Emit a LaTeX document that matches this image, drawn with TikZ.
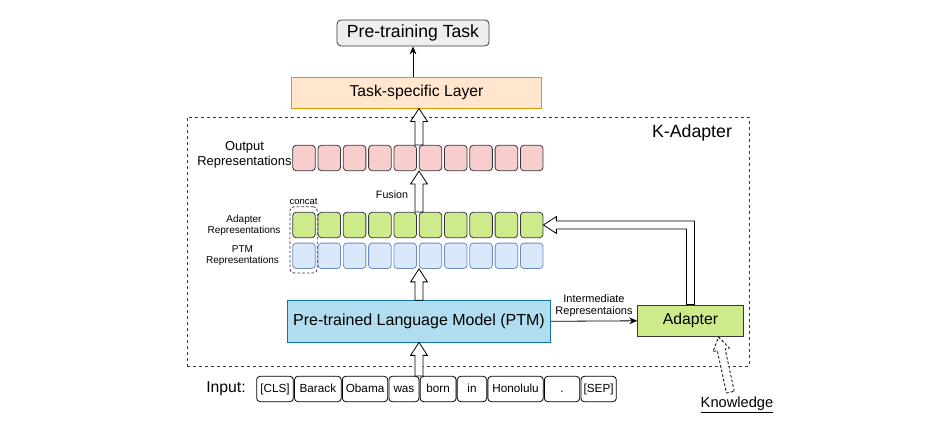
\documentclass[tikz,border=0pt]{standalone}
\usepackage{fontspec}
\setmainfont{Liberation Sans}
\usetikzlibrary{positioning,calc,arrows.meta}

\definecolor{redfill}{HTML}{F8CECC}
\definecolor{greenfill}{HTML}{CDEB8B}
\definecolor{bluefill}{HTML}{DAE8FC}
\definecolor{blueline}{HTML}{6C8EBF}
\definecolor{ptmfill}{HTML}{B1DDF0}
\definecolor{ptmline}{HTML}{10739E}
\definecolor{orangefill}{HTML}{FFE6CC}
\definecolor{orangeline}{HTML}{D79B00}
\definecolor{darkline}{HTML}{36393D}
\definecolor{grayfill}{HTML}{EEEEEE}

\begin{document}
\begin{tikzpicture}[x=0.75pt,y=-0.75pt]
  \tikzstyle{cell} = [rectangle, rounded corners=2.5pt, minimum width=16.9pt, minimum height=19pt, inner sep=0pt, draw=darkline, line width=0.6pt]
  \tikzstyle{token} = [rectangle, rounded corners=2.5pt, minimum height=19pt, inner sep=1pt, text height=6.5pt, text depth=1.8pt, draw=black, line width=0.6pt, font=\fontsize{8.8}{10}\selectfont]
  \tikzstyle{lbl} = [align=center, font=\fontsize{7.5}{8.6}\selectfont]
  \tikzstyle{arrow} = [line width=0.6pt, -{Stealth[length=6pt,width=5pt]}]
  \tikzstyle{hollow} = [draw=black, fill=white, line width=0.6pt,
    to path={let \p1=(\tikztostart), \p2=(\tikztotarget),
      \n1={atan2(\y2-\y1,\x2-\x1)}, \n2={veclen(\x2-\x1,\y2-\y1)} in
      ([shift={(\p1)},rotate=\n1]0pt,-3pt) -- ([shift={(\p1)},rotate=\n1]{\n2-9.75pt},-3pt)
      -- ([shift={(\p1)},rotate=\n1]{\n2-9.75pt},-6.3pt) -- (\p2)
      -- ([shift={(\p1)},rotate=\n1]{\n2-9.75pt},6.3pt) -- ([shift={(\p1)},rotate=\n1]{\n2-9.75pt},3pt)
      -- ([shift={(\p1)},rotate=\n1]0pt,3pt) -- cycle}]

  \useasboundingbox (0,0) rectangle (933,428);

  % top
  \node (task) [rectangle, rounded corners=3pt, minimum width=114pt, minimum height=19.5pt, draw=darkline, fill=grayfill, line width=0.6pt, font=\fontsize{13.2}{15}\selectfont] at (413,33) {Pre-training Task};
  \node (layer) [rectangle, minimum width=188pt, minimum height=23.3pt, draw=orangeline, fill=orangefill, line width=0.6pt, font=\fontsize{11.8}{14}\selectfont] at (416.5,92.5) {Task-specific Layer};
  \draw [arrow] (task.south |- layer.north) -- (task.south);

  % K-Adapter frame
  \node (kbox) [rectangle, minimum width=421.5pt, minimum height=186.75pt, draw=darkline, line width=0.6pt, dash pattern=on 2.5pt off 2pt] at (468,241.5) {};
  \node (ktitle) [font=\fontsize{13.3}{15}\selectfont] at (692,133) {K-Adapter};

  % representation rows
  \foreach \i in {1,...,10} {
    \node (o\i) [cell, fill=redfill] at ({304+(\i-1)*25.3},158) {};
    \node (a\i) [cell, fill=greenfill] at ({304+(\i-1)*25.3},225) {};
    \node (p\i) [cell, fill=bluefill, draw=blueline] at ({304+(\i-1)*25.3},255.8) {};
  }
  \node (olab) [align=center, font=\fontsize{9.7}{11}\selectfont] at (244.5,154.5) {Output\\Representations};
  \node (alab) [lbl] at (244,225.3) {Adapter\\Representations};
  \node (plab) [lbl] at (242.5,255.8) {PTM\\Representations};
  \node (cc) [rectangle, rounded corners=3pt, minimum width=20.5pt, minimum height=49.7pt, draw=darkline, line width=0.6pt, dash pattern=on 2pt off 1.5pt] at (303.6,239.8) {};
  \node (cclab) [font=\fontsize{7.1}{8}\selectfont] at (303.5,201.5) {concat};
  \node (fus) [font=\fontsize{8}{9}\selectfont] at (392,195) {Fusion};

  % models
  \node (ptm) [rectangle, minimum width=197.5pt, minimum height=31pt, draw=ptmline, fill=ptmfill, line width=0.6pt, font=\fontsize{12}{14}\selectfont] at (419,321.3) {Pre-trained Language Model (PTM)};
  \node (adp) [rectangle, minimum width=79.2pt, minimum height=23.8pt, draw=darkline, fill=greenfill, line width=0.6pt, font=\fontsize{11.8}{14}\selectfont] at (690.5,320.8) {Adapter};
  \draw [arrow] (ptm.east) -- (adp.west);
  \node (inter) [align=center, font=\fontsize{8.25}{9.3}\selectfont] at (594,305.5) {Intermediate\\Representaions};

  % input tokens
  \node (inlab) [font=\fontsize{11.8}{14}\selectfont] at (226,389) {Input:};
  \node (w1) [token, minimum width=27.5pt] at (275,389) {[CLS]};
  \node (w2) [token, minimum width=35pt, right=0.3pt of w1] {Barack};
  \node (w3) [token, minimum width=34pt, right=0.3pt of w2] {Obama};
  \node (w4) [token, minimum width=22.5pt, right=0.3pt of w3] {was};
  \node (w5) [token, minimum width=27pt, right=0.3pt of w4] {born};
  \node (w6) [token, minimum width=22pt, right=0.3pt of w5] {in};
  \node (w7) [token, minimum width=41.5pt, right=0.3pt of w6] {Honolulu};
  \node (w8) [token, minimum width=26.5pt, right=0.3pt of w7] {.};
  \node (w9) [token, minimum width=26.5pt, right=0.3pt of w8] {[SEP]};

  \node (kn) [font=\fontsize{11}{13}\selectfont] at (737,405) {\underline{Knowledge}};

  % block arrows
  \draw [hollow] (ptm.south |- w4.north) to (ptm.south);
  \draw [hollow] (ptm.north) to (ptm.north |- p5.south);
  \draw [hollow] (ptm.north |- a5.north) to (ptm.north |- o5.south);
  \draw [hollow] (ptm.north |- o5.north) to (ptm.north |- layer.south);
  \draw [draw=black, fill=white, line width=0.6pt] let \p1=(adp.north), \p2=(a10.east) in
    (\x1-3pt,\y1) -- (\x1-3pt,\y2-3pt) -- (\x2+9.75pt,\y2-3pt) -- (\x2+9.75pt,\y2-6.3pt) -- (\p2)
    -- (\x2+9.75pt,\y2+6.3pt) -- (\x2+9.75pt,\y2+3pt) -- (\x1+3pt,\y2+3pt) -- (\x1+3pt,\y1) -- cycle;
  \draw [hollow, dash pattern=on 2pt off 1.5pt] ([xshift=-5pt]kn.north) to ([xshift=21pt]adp.south);
\end{tikzpicture}
\end{document}
